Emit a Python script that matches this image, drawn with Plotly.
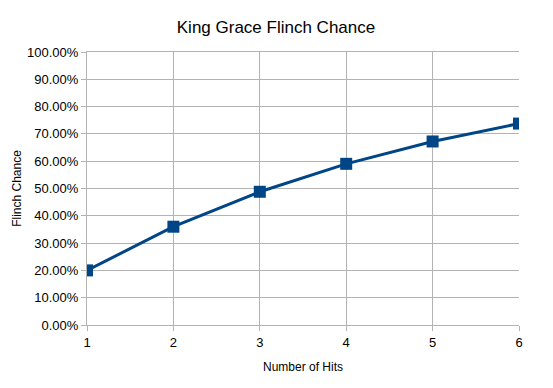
import plotly.graph_objects as go

hits = [1, 2, 3, 4, 5, 6]
flinch = [0.20, 0.36, 0.488, 0.5904, 0.67232, 0.737856]
y_ticks = [i / 10 for i in range(11)]

W, H = 537, 372  # page body has an 8px margin
fig = go.Figure()
fig.add_trace(go.Scatter(
    x=hits, y=flinch, mode="lines+markers",
    line=dict(color="#004586", width=3),
    marker=dict(symbol="square", size=12, color="#004586"),
    showlegend=False,
))

grid = "#b3b3b3"
fig.update_layout(
    width=W, height=H,
    margin=dict(l=79, r=26, t=44, b=55, autoexpand=False),
    paper_bgcolor="white", plot_bgcolor="white",
    font=dict(family="Liberation Sans, Arial, sans-serif", size=13, color="black"),
    title=dict(text="King Grace Flinch Chance", x=(276 - 8) / W, xanchor="center",
               y=1 - 19 / H, yanchor="middle", font=dict(size=17)),
    xaxis=dict(range=[1, 6], tickvals=hits, showgrid=True, gridcolor=grid, gridwidth=1,
               showline=True, linecolor=grid, mirror=True, ticks="outside", ticklen=5,
               tickcolor=grid, zeroline=False, tickfont=dict(size=13), automargin=False,
               title=dict(text="Number of Hits", font=dict(size=12), standoff=14)),
    yaxis=dict(range=[0, 1], tickvals=y_ticks, tickformat=".2%", showgrid=True,
               gridcolor=grid, gridwidth=1, showline=True, linecolor=grid, ticks="outside",
               ticklen=5, tickcolor=grid, zeroline=False, tickfont=dict(size=13), automargin=False,
               title=dict(text="Flinch Chance", font=dict(size=12), standoff=2)),
)
fig.write_html("out.html")
